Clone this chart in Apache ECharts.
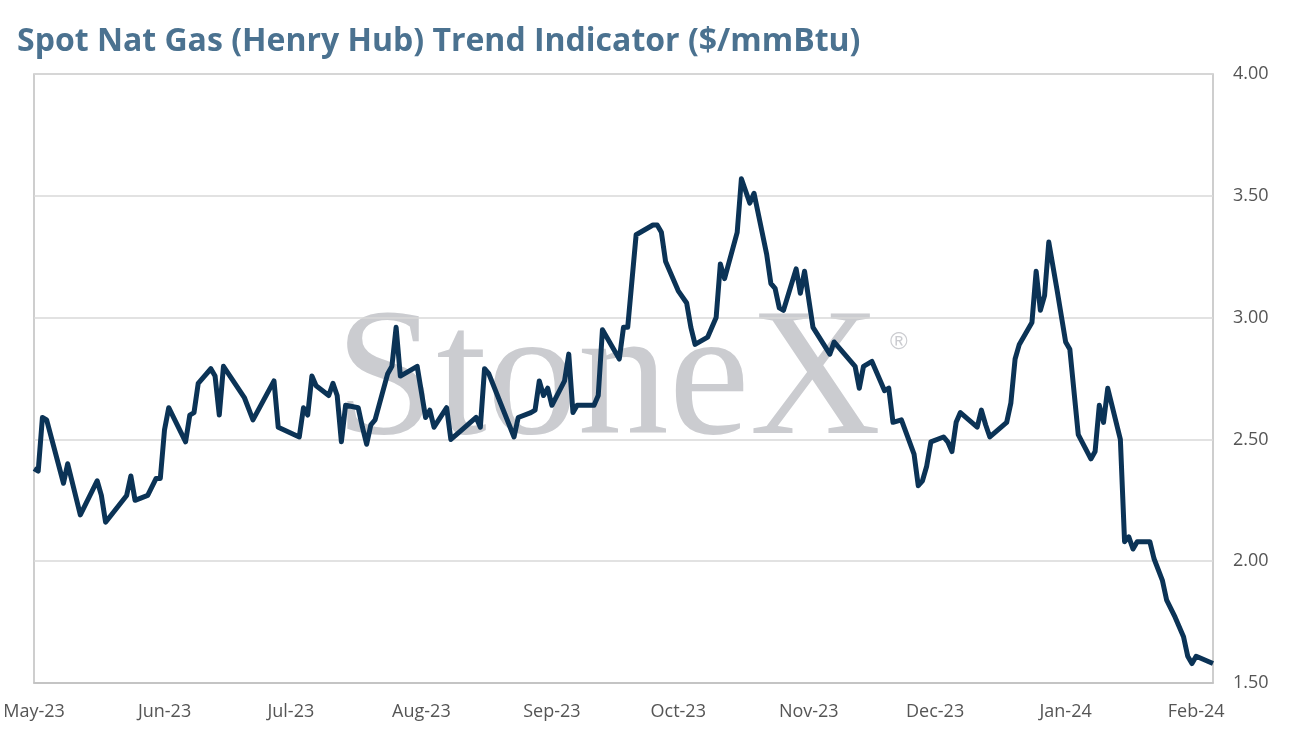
<!doctype html>
<html>
<head>
<meta charset="UTF-8">
<title>Spot Nat Gas (Henry Hub) Trend Indicator</title>
<script src="https://cdn.jsdelivr.net/npm/echarts@6/dist/echarts.min.js"></script>
<style>
  html, body { margin: 0; padding: 0; background: #fff; }
  #main { width: 1290px; height: 741px; }
</style>
</head>
<body>
<div id="main"></div>
<script>
// dates / prices
var dates = [
  '2023-05-01','2023-05-02','2023-05-03','2023-05-04','2023-05-08','2023-05-09','2023-05-12',
  '2023-05-16','2023-05-17','2023-05-18','2023-05-23','2023-05-24','2023-05-25','2023-05-28',
  '2023-05-30','2023-05-31','2023-06-01','2023-06-02','2023-06-06','2023-06-07','2023-06-08',
  '2023-06-09','2023-06-12','2023-06-13','2023-06-14','2023-06-15','2023-06-20','2023-06-22',
  '2023-06-27','2023-06-28','2023-07-03','2023-07-04','2023-07-05','2023-07-06','2023-07-07',
  '2023-07-10','2023-07-11','2023-07-12','2023-07-13','2023-07-14','2023-07-17','2023-07-18',
  '2023-07-19','2023-07-20','2023-07-21','2023-07-24','2023-07-25','2023-07-26','2023-07-27',
  '2023-07-31','2023-08-02','2023-08-03','2023-08-04','2023-08-07','2023-08-08','2023-08-10',
  '2023-08-14','2023-08-15','2023-08-16','2023-08-17','2023-08-23','2023-08-24','2023-08-27',
  '2023-08-28','2023-08-29','2023-08-30','2023-08-31','2023-09-01','2023-09-04','2023-09-05',
  '2023-09-06','2023-09-07','2023-09-11','2023-09-12','2023-09-13','2023-09-17','2023-09-18',
  '2023-09-19','2023-09-21','2023-09-25','2023-09-26','2023-09-27','2023-09-28','2023-10-01',
  '2023-10-03','2023-10-04','2023-10-05','2023-10-08','2023-10-10','2023-10-11','2023-10-12',
  '2023-10-15','2023-10-16','2023-10-18','2023-10-19','2023-10-22','2023-10-23','2023-10-24',
  '2023-10-25','2023-10-26','2023-10-29','2023-10-30','2023-10-31','2023-11-02','2023-11-06',
  '2023-11-07','2023-11-12','2023-11-13','2023-11-14','2023-11-16','2023-11-19','2023-11-20',
  '2023-11-21','2023-11-23','2023-11-26','2023-11-27','2023-11-28','2023-11-29','2023-11-30',
  '2023-12-03','2023-12-04','2023-12-05','2023-12-06','2023-12-07','2023-12-11','2023-12-12',
  '2023-12-13','2023-12-14','2023-12-18','2023-12-19','2023-12-20','2023-12-21','2023-12-24',
  '2023-12-25','2023-12-26','2023-12-27','2023-12-28','2023-12-30','2024-01-01','2024-01-02',
  '2024-01-04','2024-01-07','2024-01-08','2024-01-09','2024-01-10','2024-01-11','2024-01-14',
  '2024-01-15','2024-01-16','2024-01-17','2024-01-18','2024-01-21','2024-01-22','2024-01-24',
  '2024-01-25','2024-01-27','2024-01-29','2024-01-30','2024-01-31','2024-02-01','2024-02-05'
];
var prices = [
  2.38, 2.37, 2.59, 2.58, 2.32, 2.40, 2.19,
  2.33, 2.27, 2.16, 2.27, 2.35, 2.25, 2.27,
  2.34, 2.34, 2.54, 2.63, 2.49, 2.60, 2.61,
  2.73, 2.79, 2.76, 2.60, 2.80, 2.67, 2.58,
  2.74, 2.55, 2.51, 2.63, 2.60, 2.76, 2.72,
  2.68, 2.73, 2.68, 2.49, 2.64, 2.63, 2.55,
  2.48, 2.56, 2.58, 2.77, 2.80, 2.96, 2.76,
  2.80, 2.59, 2.62, 2.55, 2.63, 2.50, 2.53,
  2.59, 2.55, 2.79, 2.77, 2.51, 2.59, 2.61,
  2.62, 2.74, 2.68, 2.71, 2.64, 2.74, 2.85,
  2.61, 2.64, 2.64, 2.68, 2.95, 2.83, 2.96,
  2.96, 3.34, 3.38, 3.38, 3.35, 3.23, 3.11,
  3.06, 2.96, 2.89, 2.92, 3.00, 3.22, 3.16,
  3.35, 3.57, 3.47, 3.51, 3.26, 3.14, 3.12,
  3.04, 3.03, 3.20, 3.10, 3.19, 2.96, 2.85,
  2.90, 2.80, 2.71, 2.80, 2.82, 2.70, 2.71,
  2.57, 2.58, 2.44, 2.31, 2.33, 2.39, 2.49,
  2.51, 2.49, 2.45, 2.57, 2.61, 2.55, 2.62,
  2.56, 2.51, 2.57, 2.65, 2.83, 2.89, 2.98,
  3.19, 3.03, 3.09, 3.31, 3.11, 2.90, 2.87,
  2.52, 2.42, 2.45, 2.64, 2.57, 2.71, 2.50,
  2.08, 2.10, 2.05, 2.08, 2.08, 2.01, 1.92,
  1.84, 1.77, 1.69, 1.61, 1.58, 1.61, 1.58
];
var yTicks = [1.5, 2.0, 2.5, 3.0, 3.5, 4.0];
var monthNames = ['Jan','Feb','Mar','Apr','May','Jun','Jul','Aug','Sep','Oct','Nov','Dec'];

var seriesData = [];
for (var i = 0; i < dates.length; i++) {
  seriesData.push([dates[i], prices[i]]);
}

var myChart = echarts.init(document.getElementById('main'));
var option = {
  animation: false,
  backgroundColor: '#ffffff',
  title: {
    text: 'Spot Nat Gas (Henry Hub) Trend Indicator ($/mmBtu)',
    left: 12,
    top: 21,
    textStyle: {
      color: '#4b7290',
      fontSize: 32,
      fontWeight: 'bold',
      fontFamily: 'Open Sans'
    }
  },
  graphic: [
    {
      // StoneX watermark
      type: 'text',
      left: 335,
      top: 294,
      z: 0,
      silent: true,
      style: {
        text: 'StoneX',
        font: '182px "Liberation Serif"',
        fill: '#cbccd0'
      }
    },
    {
      type: 'text',
      left: 890,
      top: 330,
      z: 0,
      silent: true,
      style: {
        text: '\u00ae',
        font: '24px "Liberation Sans"',
        fill: '#cbccd0'
      }
    }
  ],
  grid: {
    left: 34,
    right: 77,
    top: 74,
    bottom: 58,
    show: true,
    borderColor: '#bfbfbf',
    borderWidth: 1.5,
    backgroundColor: 'transparent'
  },
  xAxis: {
    type: 'time',
    min: '2023-05-01',
    max: '2024-02-05',
    minInterval: 28 * 86400000,
    maxInterval: 31 * 86400000,
    axisLine: { show: true, lineStyle: { color: '#bfbfbf', width: 1.5 } },
    axisTick: { show: false },
    splitLine: { show: false },
    axisLabel: {
      color: '#555555',
      fontSize: 18,
      fontFamily: 'Open Sans',
      margin: 20,
      showMaxLabel: false,
      formatter: function (v) {
        var d = new Date(v);
        return monthNames[d.getMonth()] + '-' + String(d.getFullYear()).slice(2);
      }
    }
  },
  yAxis: {
    type: 'value',
    position: 'right',
    min: yTicks[0],
    max: yTicks[yTicks.length - 1],
    interval: 0.5,
    axisLine: { show: false },
    axisTick: { show: false },
    splitLine: { show: true, lineStyle: { color: '#d9d9d9', width: 1.5 } },
    axisLabel: {
      color: '#555555',
      fontSize: 18,
      fontFamily: 'Open Sans',
      margin: 20,
      formatter: function (v) { return v.toFixed(2); }
    }
  },
  series: [
    {
      name: 'Henry Hub',
      type: 'line',
      data: seriesData,
      showSymbol: false,
      symbol: 'none',
      z: 5,
      lineStyle: { color: '#0b3356', width: 5, join: 'round' }
    }
  ]
};
myChart.setOption(option);
</script>
</body>
</html>
